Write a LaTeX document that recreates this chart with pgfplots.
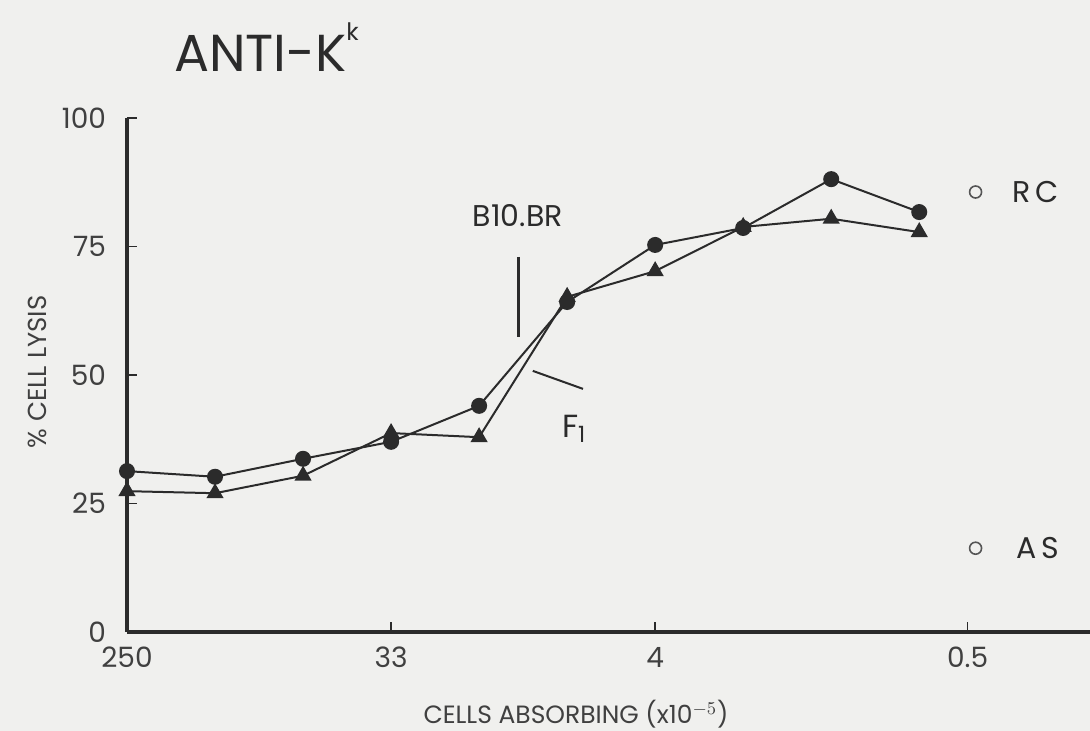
\documentclass[border=0pt]{standalone}
\usepackage{fontspec}
\setmainfont{Poppins}
\usepackage{pgfplots}
\pgfplotsset{compat=1.18}
\definecolor{ink}{HTML}{2B2B2B}
\definecolor{paper}{HTML}{F0F0EE}

\begin{document}
\begin{tikzpicture}
\fill[paper] (-63.5pt,-49.5pt) rectangle (481.5pt,316pt);
\path[use as bounding box] (-63.5pt,-49.5pt) rectangle (481.5pt,316pt);
\begin{axis}[
  at={(0pt,0pt)}, anchor=south west,
  scale only axis, width=481.5pt, height=257pt,
  xmin=0, xmax=10.94, ymin=0, ymax=100,
  axis lines=left,
  axis line style={-, ink, line width=2pt},
  clip=false,
  xtick={0,3,6,9.55}, xticklabels={250,33,4,0.5},
  ytick={0,25,50,75,100},
  tick align=inside, major tick length=5pt,
  tick style={ink, line width=0.8pt},
  /pgf/number format/assume math mode=true,
  tick label style={text=ink!90},
  xticklabel style={font=\fontsize{14}{14}\selectfont, yshift=-4pt},
  yticklabel style={font=\fontsize{14}{14}\selectfont, xshift=-7pt},
]
% dilution series, two strains
\addplot[ink, line width=1pt, mark=*, mark size=3.5pt, mark options={fill=ink}]
  coordinates {(0,31.3) (1,30.2) (2,33.7) (3,37.0) (4,44.0) (5,64.2) (6,75.3) (7,78.6) (8,88.1) (9,81.7)};
\addplot[ink, line width=1pt, mark=triangle*, mark size=4pt, mark options={fill=ink}]
  coordinates {(0,27.4) (1,27.0) (2,30.4) (3,38.7) (4,37.9) (5,65.2) (6,70.2) (7,78.8) (8,80.4) (9,77.8)};
% controls
\addplot[only marks, mark=o, mark size=3pt, mark options={ink!80, line width=0.8pt}]
  coordinates {(9.64,85.6) (9.64,16.3)};
\node[anchor=west, text=ink, font=\fontsize{15}{15}\selectfont] at (axis cs:9.98,85.6) {R\,C};
\node[anchor=west, text=ink, font=\fontsize{15}{15}\selectfont] at (axis cs:10.02,16.3) {A\,S};
% strain annotations
\node[text=ink, font=\fontsize{15}{15}\selectfont] at (axis cs:4.44,81.1) {B10.BR};
\draw[ink, line width=1.5pt] (axis cs:4.45,73.0) -- (axis cs:4.45,57.4);
\draw[ink, line width=1pt] (axis cs:4.61,50.8) -- (axis cs:5.18,47.3);
\node[text=ink, font=\fontsize{16}{16}\selectfont] at (axis cs:5.08,39.5) {F\textsubscript{1}};
\end{axis}
\node[anchor=base west, text=ink, font=\fontsize{26}{26}\selectfont] at (20pt,280pt) {ANTI-K\raisebox{0.6em}{\fontsize{12}{12}\selectfont k}};
\node[rotate=90, text=ink!90, font=\fontsize{13}{13}\selectfont] at (-45pt,130pt) {\% CELL LYSIS};
\node[anchor=base, text=ink!90, font=\fontsize{12.5}{12.5}\selectfont] at (224.5pt,-45.8pt) {CELLS ABSORBING (x10$^{-5}$)};
\end{tikzpicture}
\end{document}
